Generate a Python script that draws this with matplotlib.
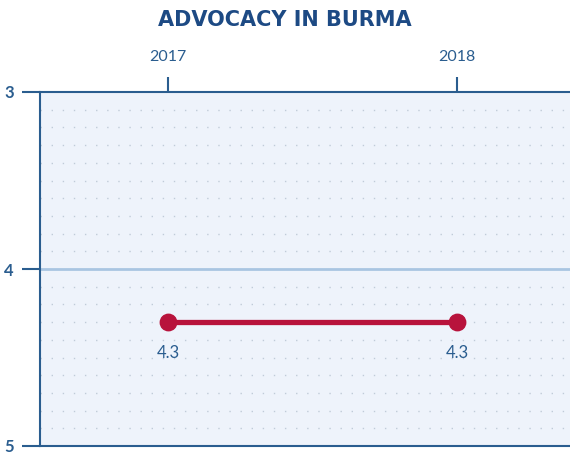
import numpy as np
import matplotlib.pyplot as plt

years = [2017, 2018]
scores = [4.3, 4.3]
score_labels = ["4.3", "4.3"]
y_ticks = [3, 4, 5]
title = "ADVOCACY IN BURMA"

blue = "#2a5d8f"
red = "#b8133c"

plt.rcParams['font.family'] = ['Lato', 'DejaVu Sans']

fig = plt.figure(figsize=(5.7, 4.55), dpi=100)
ax = fig.add_axes([40/570, 9/455, 530/570, 354/455])
ax.set_facecolor("#eef3fb")

# faint dotted guides every 0.1, solid one at the midpoint
for v in np.arange(3.1, 5.0, 0.1):
    if abs(v - 4) < 1e-6:
        continue
    ax.axhline(v, color="#c0cbd8", lw=1.0, linestyle=(0, (1, 7)), zorder=1)
ax.axhline(4, color="#a9c5e2", lw=2, zorder=1)

ax.plot(years, scores, color=red, lw=3.8, zorder=3)
ax.scatter(years, scores, s=140, color=red, zorder=4)
for x, y, t in zip(years, scores, score_labels):
    ax.annotate(t, (x, y), xytext=(0, -22), textcoords="offset points",
                ha="center", va="center", color=blue, fontsize=12)

ax.set_ylim(5, 3)
ax.set_xlim(2017 - 128/289, 2017 + 530/289 - 128/289)
ax.set_yticks(y_ticks)
ax.set_yticklabels([str(t) for t in y_ticks], fontsize=12, fontweight="bold")
ax.set_xticks(years)
ax.set_xticklabels([str(y) for y in years], fontsize=11.5)
ax.xaxis.tick_top()
ax.tick_params(axis="x", colors=blue, length=11, width=1.5, pad=9)
ax.tick_params(axis="y", colors=blue, length=13, width=1.5, pad=6)

for side in ["left", "top", "bottom"]:
    ax.spines[side].set_color(blue)
    ax.spines[side].set_linewidth(1.5)
ax.spines["right"].set_visible(False)

fig.text(0.5, 0.955, title, ha="center", va="center", color="#1d4a84",
         fontsize=15, fontweight="bold", family=["DejaVu Sans"])

fig.savefig("out.png", dpi=100)
